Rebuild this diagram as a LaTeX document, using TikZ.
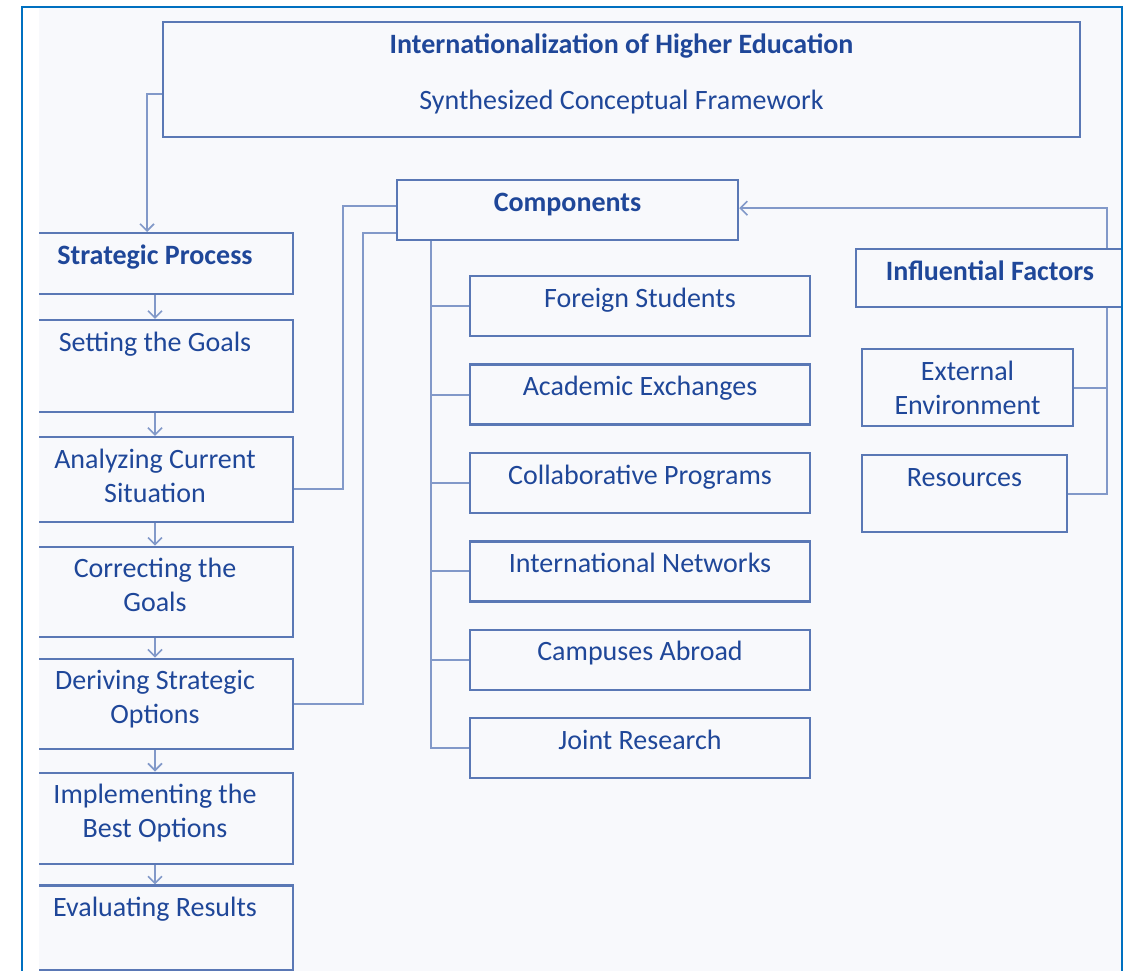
\documentclass[tikz,border=0pt]{standalone}
\usepackage{fontspec}
\setmainfont{Carlito}
\usetikzlibrary{positioning,arrows.meta}
\definecolor{framecol}{HTML}{0070C0}
\definecolor{boxcol}{HTML}{5A78B5}
\definecolor{linkcol}{HTML}{8299C9}
\definecolor{txtcol}{HTML}{1F4799}
\definecolor{paper}{HTML}{F8F9FC}
\tikzset{
  stagebox/.style={draw=boxcol, line width=2.4pt, text=txtcol, align=center,
    inner xsep=4pt, inner ysep=0pt, text height=31pt, minimum width=#1},
  twoline/.style={text height=65pt},
  link/.style={draw=linkcol, line width=2pt},
  flow/.style={link, -{Straight Barb[length=7pt,width=14pt,line width=1.6pt]}}
}
\begin{document}
\begin{tikzpicture}[x=1pt, y=-1pt, font=\fontsize{28}{34}\selectfont]
  \useasboundingbox (0,0) rectangle (1127,971);
  \fill[white] (0,0) rectangle (1127,971);
  \fill[paper] (39,8) rectangle (1121,971);
  \begin{scope}
    \clip (39,8) rectangle (1121,971);
    % title
    \node[stagebox=917pt, text height=87pt, text depth=28pt, anchor=north] (title)
      at (621.5,21)
      {{\bfseries Internationalization of Higher Education}\\[22pt]
       Synthesized Conceptual Framework};
    % strategic process column
    \node[stagebox=276pt, text depth=30pt, anchor=north] (SP) at (155,232)
      {\bfseries Strategic Process};
    \node[stagebox=276pt, text depth=61pt, below=23.5pt of SP] (SG) {Setting the Goals};
    \node[stagebox=276pt, twoline, text depth=20pt, below=22.5pt of SG] (AC)
      {Analyzing Current\\Situation};
    \node[stagebox=276pt, twoline, text depth=25pt, below=22.5pt of AC] (CG)
      {Correcting the\\Goals};
    \node[stagebox=276pt, twoline, text depth=25pt, below=19.5pt of CG] (DS)
      {Deriving Strategic\\Options};
    \node[stagebox=276pt, twoline, text depth=26pt, below=21.5pt of DS] (IB)
      {Implementing the\\Best Options};
    \node[stagebox=276pt, text depth=54pt, below=19.5pt of IB] (ER) {Evaluating Results};
    % components
    \node[stagebox=341pt, text depth=29pt, anchor=north] (Comp) at (567.5,179)
      {\bfseries Components};
    \node[stagebox=340pt, text depth=29pt, anchor=north] (FS) at (640,275)
      {Foreign Students};
    \node[stagebox=340pt, text depth=29pt, below=26pt of FS] (AE) {Academic Exchanges};
    \node[stagebox=340pt, text depth=29pt, below=26pt of AE] (CP) {Collaborative Programs};
    \node[stagebox=340pt, text depth=29pt, below=26pt of CP] (IN) {International Networks};
    \node[stagebox=340pt, text depth=29pt, below=26pt of IN] (CA) {Campuses Abroad};
    \node[stagebox=340pt, text depth=29pt, below=26pt of CA] (JR) {Joint Research};
    % influential factors
    \node[stagebox=268pt, text depth=27pt, anchor=north] (IF) at (990,248)
      {\bfseries Influential Factors};
    \node[stagebox=211pt, twoline, text depth=12pt, anchor=north] (Ext) at (967.5,348)
      {External\\Environment};
    \node[stagebox=205pt, text depth=46pt, anchor=north] (Res) at (964.5,454)
      {Resources};
    % connectors
    \draw[flow] ([yshift=-14.5pt]title.west) -| ([xshift=-8pt]SP.north);
    \foreach \a/\b in {SP/SG, SG/AC, AC/CG, CG/DS, DS/IB, IB/ER}
      \draw[flow] (\a) -- (\b);
    \draw[link] ([yshift=-9.5pt]AC.east) -- ++(49,0) |- ([yshift=4pt]Comp.west);
    \draw[link] (DS.east) -- ++(69,0) |- ([yshift=-23pt]Comp.west);
    \coordinate (trunk) at ([xshift=35pt]Comp.south west);
    \draw[link] (trunk) |- (JR.west);
    \foreach \n in {FS, AE, CP, IN, CA}
      \draw[link] (\n.west) -- (\n.west -| trunk);
    \coordinate (IFbus) at ([xshift=-18pt]IF.north east);
    \draw[flow] (IFbus) |- ([yshift=2pt]Comp.east);
    \draw[link] (IFbus |- IF.south) |- (Res.east);
    \draw[link] (Ext.east) -- (Ext.east -| IFbus);
  \end{scope}
  \draw[framecol, line width=2.5pt] (22,971) -- (22,7) -- (1122,7) -- (1122,971);
\end{tikzpicture}
\end{document}
